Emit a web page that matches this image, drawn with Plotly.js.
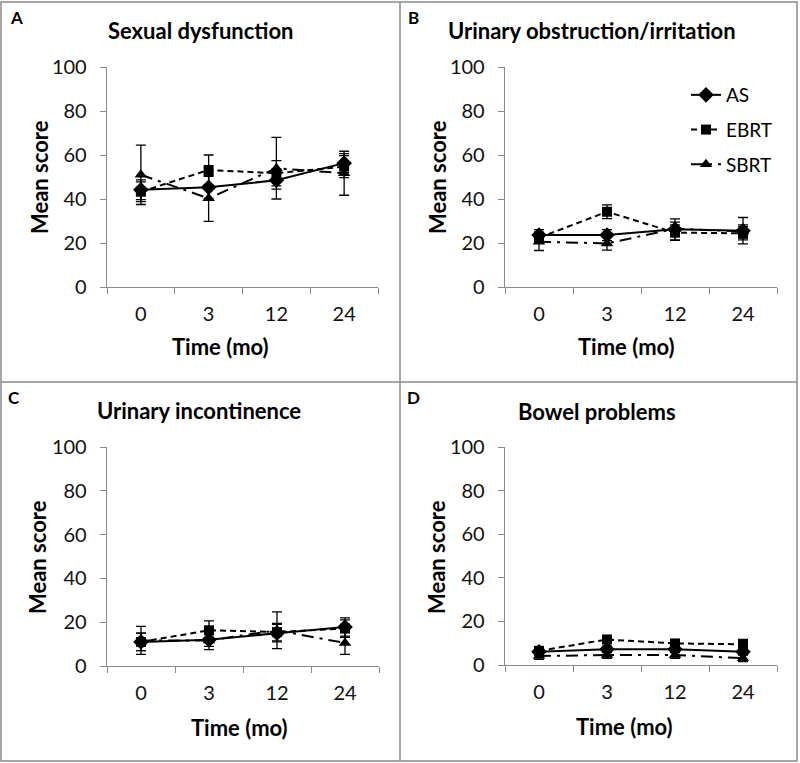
<!DOCTYPE html>
<html>
<head>
<meta charset="utf-8">
<script src="https://cdn.plot.ly/plotly-3.0.1.min.js"></script>
<style>
html,body{margin:0;padding:0;background:#fff;}
#chart{width:800px;height:763px;}
</style>
</head>
<body>
<div id="chart"></div>
<script>
// ---- data ----
const timepoints = ["0", "3", "12", "24"];
const seriesNames = ["AS", "EBRT", "SBRT"];
const panelTitles = ["Sexual dysfunction", "Urinary obstruction/irritation", "Urinary incontinence", "Bowel problems"];
const panelLetters = ["A", "B", "C", "D"];

const sexualAS = [44.2, 45.3, 48.5, 56.3];
const sexualASErr = [4.5, 5, 4, 4.3];
const sexualEBRT = [43.3, 53.2, 51.7, 54.7];
const sexualEBRTErr = [4.5, 6.8, 5.7, 5];
const sexualSBRT = [51, 40.3, 54, 51.7];
const sexualSBRTErr = [13.5, 10.5, 14, 10];

const obstrAS = [23.6, 23.6, 26.2, 25.6];
const obstrASErr = [2.5, 2.5, 4.8, 6];
const obstrEBRT = [22.4, 34.2, 24.7, 24.4];
const obstrEBRTErr = [2.5, 3.1, 3.5, 3];
const obstrSBRT = [20.6, 19.8, 26.5, 25.2];
const obstrSBRTErr = [4, 3, 3, 3];

const inconAS = [11, 12, 15, 17.8];
const inconASErr = [4, 3, 4, 4.2];
const inconEBRT = [11, 16.3, 15.5, 17.1];
const inconEBRTErr = [4, 4.3, 4, 4];
const inconSBRT = [11.7, 11.7, 16.3, 10.5];
const inconSBRTErr = [6.4, 4.2, 8.4, 5.2];

const bowelAS = [6.1, 7.2, 7.2, 6.1];
const bowelASErr = [1.5, 1.5, 1.5, 1.5];
const bowelEBRT = [6.5, 11.7, 9.9, 9.5];
const bowelEBRTErr = [1.5, 1.5, 1.5, 2.2];
const bowelSBRT = [4.1, 4.6, 4.6, 3.1];
const bowelSBRTErr = [1.5, 1.5, 1.5, 1.5];

const yTickVals = [0, 20, 40, 60, 80, 100];
const xAxisTitle = "Time (mo)";
const yAxisTitle = "Mean score";

// ---- build ----
const panels = [
  [[sexualAS, sexualASErr], [sexualEBRT, sexualEBRTErr], [sexualSBRT, sexualSBRTErr]],
  [[obstrAS, obstrASErr], [obstrEBRT, obstrEBRTErr], [obstrSBRT, obstrSBRTErr]],
  [[inconAS, inconASErr], [inconEBRT, inconEBRTErr], [inconSBRT, inconSBRTErr]],
  [[bowelAS, bowelASErr], [bowelEBRT, bowelEBRTErr], [bowelSBRT, bowelSBRTErr]]
];
const styles = [
  {dash: "solid", symbol: "diamond", size: 12},
  {dash: "6px,4px", symbol: "square", size: 10},
  {dash: "12px,6px,3px,6px", symbol: "triangle-up", size: 11}
];
const FONT = "Lato, 'Liberation Sans', Arial, sans-serif";
const W = 800, H = 763;
const px = v => v / W;
const py = v => 1 - v / H;

// plot area pixel boxes [left, right, top, bottom]
const boxes = [
  [107, 378, 67, 287],
  [505, 777, 67, 287],
  [107, 379, 447, 666],
  [505, 777, 447, 665]
];

const traces = [];
panels.forEach((panel, p) => {
  const ax = p === 0 ? "" : String(p + 1);
  panel.forEach((s, i) => {
    traces.push({
      type: "scatter",
      mode: "lines+markers",
      x: timepoints,
      y: s[0],
      name: seriesNames[i],
      xaxis: "x" + ax,
      yaxis: "y" + ax,
      showlegend: p === 0,
      legendgroup: seriesNames[i],
      line: {color: "#000", width: 2, dash: styles[i].dash},
      marker: {symbol: styles[i].symbol, size: styles[i].size, color: "#000"},
      error_y: {type: "data", array: s[1], visible: true, color: "#000", thickness: 1.3, width: 5},
      cliponaxis: false
    });
  });
});

const layout = {
  width: W, height: H,
  margin: {l: 0, r: 0, t: 0, b: 0},
  paper_bgcolor: "#fff",
  plot_bgcolor: "rgba(0,0,0,0)",
  font: {family: FONT, color: "#000", size: 17},
  showlegend: true,
  legend: {
    x: px(686), y: py(76), xanchor: "left", yanchor: "top",
    bgcolor: "rgba(0,0,0,0)", borderwidth: 0,
    font: {family: FONT, size: 19, color: "#000"},
    traceorder: "grouped", tracegroupgap: 7
  },
  annotations: [],
  shapes: [
    {type: "rect", xref: "paper", yref: "paper", x0: px(1), x1: px(797), y0: py(2), y1: py(761), line: {color: "#8a8a8a", width: 1.5}},
    {type: "line", xref: "paper", yref: "paper", x0: px(400), x1: px(400), y0: py(2), y1: py(761), line: {color: "#8a8a8a", width: 1.5}},
    {type: "line", xref: "paper", yref: "paper", x0: px(1), x1: px(797), y0: py(382), y1: py(382), line: {color: "#8a8a8a", width: 1.5}}
  ]
};

const titlePos = [[201, 31], [592, 30], [199, 410], [597, 412]];
const letterPos = [[16, 18], [414, 18], [14, 398], [413, 398]];
const yTitlePos = [[39, 177], [437, 177], [37, 557], [436, 557]];
const xTitlePos = [[220, 346], [626, 346], [239, 727], [624, 726]];

boxes.forEach((b, p) => {
  const ax = p === 0 ? "" : String(p + 1);
  layout["xaxis" + ax] = {
    type: "category",
    domain: [px(b[0]), px(b[1])],
    anchor: "y" + ax,
    range: [-0.5, 3.5],
    tickson: "boundaries",
    ticks: "outside", ticklen: 6, tickcolor: "#8a8a8a", tickwidth: 1,
    showline: true, linecolor: "#8a8a8a", linewidth: 1.3,
    showgrid: false, zeroline: false,
    tickfont: {family: FONT, size: 20, color: "#111"},
    ticklabelstandoff: 9,
    fixedrange: true
  };
  layout["yaxis" + ax] = {
    domain: [py(b[3]), py(b[2])],
    anchor: "x" + ax,
    range: [0, 100],
    tickvals: yTickVals,
    ticks: "outside", ticklen: 6, tickcolor: "#8a8a8a", tickwidth: 1,
    showline: true, linecolor: "#8a8a8a", linewidth: 1.3,
    showgrid: false, zeroline: false,
    tickfont: {family: FONT, size: 20, color: "#111"},
    ticklabelstandoff: 9,
    fixedrange: true
  };
  layout.annotations.push({
    text: "<b>" + panelTitles[p] + "</b>", xref: "paper", yref: "paper",
    x: px(titlePos[p][0]), y: py(titlePos[p][1]), xanchor: "center", yanchor: "middle",
    showarrow: false, font: {family: FONT, size: 22, color: "#000"}
  });
  layout.annotations.push({
    text: "<b>" + panelLetters[p] + "</b>", xref: "paper", yref: "paper",
    x: px(letterPos[p][0]), y: py(letterPos[p][1]), xanchor: "center", yanchor: "middle",
    showarrow: false, font: {family: FONT, size: 17, color: "#000"}
  });
  layout.annotations.push({
    text: "<b>" + yAxisTitle + "</b>", xref: "paper", yref: "paper", textangle: -90,
    x: px(yTitlePos[p][0]), y: py(yTitlePos[p][1]), xanchor: "center", yanchor: "middle",
    showarrow: false, font: {family: FONT, size: 22, color: "#000"}
  });
  layout.annotations.push({
    text: "<b>" + xAxisTitle + "</b>", xref: "paper", yref: "paper",
    x: px(xTitlePos[p][0]), y: py(xTitlePos[p][1]), xanchor: "center", yanchor: "middle",
    showarrow: false, font: {family: FONT, size: 22, color: "#000"}
  });
});

Plotly.newPlot("chart", traces, layout, {staticPlot: true, displayModeBar: false});
</script>
</body>
</html>
